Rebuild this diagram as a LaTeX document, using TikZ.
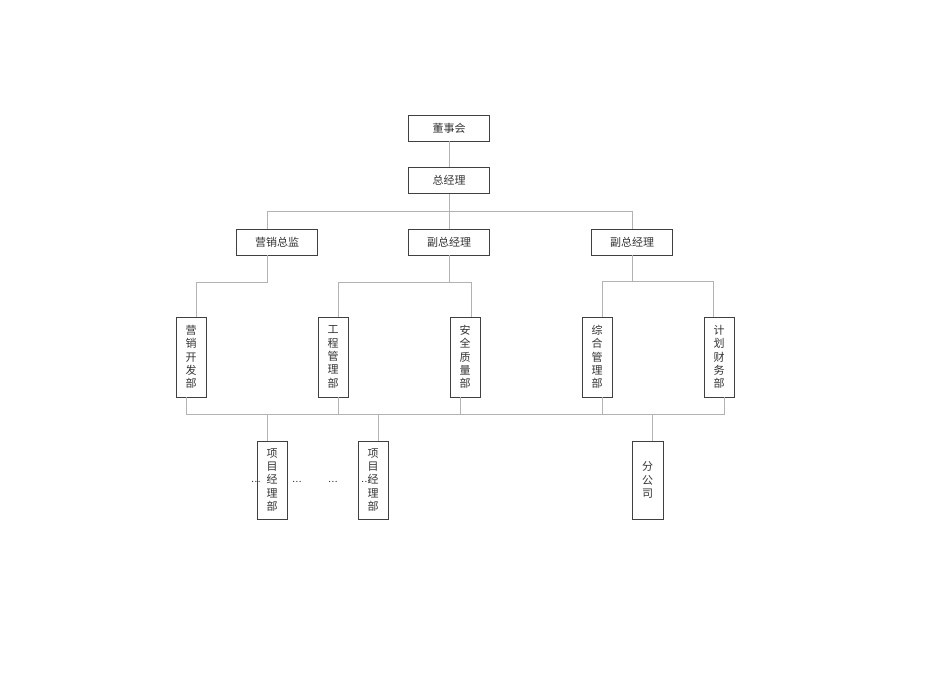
\documentclass[tikz,border=0pt]{standalone}
\usepackage{fontspec}
\newfontfamily\cjk{Noto Sans CJK SC}

\tikzset{
  orgbox/.style={draw=black!75, line width=0.9pt, fill=white, inner sep=0pt,
    text=black!80, font=\cjk\fontsize{11}{13.3}\selectfont},
  hbox/.style={orgbox, minimum width=81pt, minimum height=26pt},
  vbox/.style={orgbox, minimum width=30pt, minimum height=80pt, align=center},
  pbox/.style={orgbox, minimum width=30pt, minimum height=78pt, align=center},
  conn/.style={draw=black!30, line width=0.6pt},
  dots/.style={inner sep=0pt, text=black, font=\fontsize{12}{12}\selectfont}
}

\begin{document}
\begin{tikzpicture}[x=1pt, y=-1pt]
\useasboundingbox (0,0) rectangle (950,672);

% Top of the chart
\node[hbox] (board) at (449,128) {董事会};
\node[hbox] (gm) at (449,180.5) {总经理};
\node[hbox] (mktdir) at (277,242) {营销总监};
\node[hbox] (vpA) at (449,242) {副总经理};
\node[hbox] (vpB) at (632,242) {副总经理};

% Departments
\node[vbox] (mktdev) at (191,357) {营\\销\\开\\发\\部};
\node[vbox] (eng) at (333,357) {工\\程\\管\\理\\部};
\node[vbox] (safety) at (465,357) {安\\全\\质\\量\\部};
\node[vbox] (admin) at (597,357) {综\\合\\管\\理\\部};
\node[vbox] (fin) at (719,357) {计\\划\\财\\务\\部};

% Project units and branch
\node[pbox] (projA) at (272,480) {项\\目\\经\\理\\部};
\node[pbox] (projB) at (373,480) {项\\目\\经\\理\\部};
\node[pbox, minimum width=31pt] (branch) at (647.5,480) {分\\公\\司};

\node[dots] (dotsA) at (256,482) {...};
\node[dots] (dotsB) at (297,482) {...};
\node[dots] (dotsC) at (333,482) {...};
\node[dots] (dotsD) at (366,482) {...};

% Lines from the top
\draw[conn] (board) -- (gm);
\draw[conn] (gm) -- (vpA);
\draw[conn] (mktdir.north -| 267,0) -- (267,211) -| (vpB.north);

% Lines to the departments
\draw[conn] (mktdir.south -| 267,0) -- (267,282) -| (mktdev.north -| 196,0);
\draw[conn] (vpA) -- (449,282);
\draw[conn] (eng.north -| 338,0) -- (338,282) -| (safety.north -| 471,0);
\draw[conn] (vpB) -- (632,281);
\draw[conn] (admin.north -| 602,0) -- (602,281) -| (fin.north -| 713,0);

% Bottom bus
\draw[conn] (mktdev.south -| 186,0) -- (186,414) -| (fin.south -| 724,0);
\draw[conn] (eng.south -| 338,0) -- (338,414);
\draw[conn] (safety.south -| 460,0) -- (460,414);
\draw[conn] (admin.south -| 602,0) -- (602,414);
\draw[conn] (267,414) -- (projA.north -| 267,0);
\draw[conn] (378,414) -- (projB.north -| 378,0);
\draw[conn] (652,414) -- (branch.north -| 652,0);

\end{tikzpicture}
\end{document}
